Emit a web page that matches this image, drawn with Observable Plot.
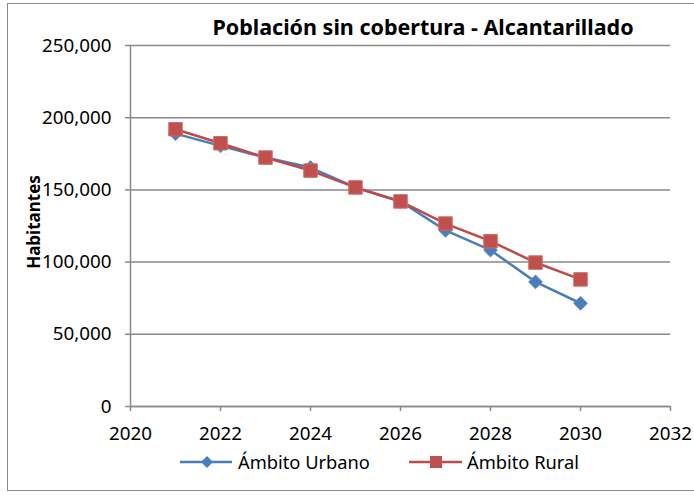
<!DOCTYPE html>
<html>
<head>
<meta charset="utf-8">
<script src="https://cdn.jsdelivr.net/npm/d3@7"></script>
<script src="https://cdn.jsdelivr.net/npm/@observablehq/plot@0.6"></script>
<style>
  body { margin: 0; background: #fff; }
  #wrap { position: relative; width: 694px; height: 495px; overflow: hidden; font-family: "Noto Sans", sans-serif; color: #000; }
  #frame { position: absolute; left: 7px; top: 3px; width: 700px; height: 488px; border: 1.5px solid #8a8a8a; box-sizing: border-box; }
  #plot { position: absolute; left: 0; top: 0; }
  #title { position: absolute; left: 423px; top: 27px; transform: translate(-50%, -50%); font-weight: bold; font-size: 21.5px; line-height: 1; white-space: nowrap; }
  #ylabel { position: absolute; left: 33px; top: 222px; transform: translate(-50%, -50%) rotate(-90deg); font-weight: bold; font-size: 17px; line-height: 1; white-space: nowrap; }
  .leg { position: absolute; top: 462px; transform: translateY(-50%); font-size: 18.3px; line-height: 1; white-space: nowrap; }
  .legsym { position: absolute; top: 452px; }
</style>
</head>
<body>
<div id="wrap">
  <div id="frame"></div>
  <div id="plot"></div>
  <div id="title">Población sin cobertura - Alcantarillado</div>
  <div id="ylabel">Habitantes</div>
</div>
<script>
// ---- data ----
const years = [2021, 2022, 2023, 2024, 2025, 2026, 2027, 2028, 2029, 2030];
const urbano = [189000, 180500, 172400, 165500, 151700, 142000, 122000, 108300, 86300, 71500];
const rural  = [192000, 182300, 172400, 163400, 151700, 142000, 126700, 114500, 99700, 88000];
const seriesNames = ["Ámbito Urbano", "Ámbito Rural"];
const xTicks = [2020, 2022, 2024, 2026, 2028, 2030, 2032];
const yTicks = [0, 50000, 100000, 150000, 200000, 250000];

const colors = { "Ámbito Urbano": "#4A7EBB", "Ámbito Rural": "#BE4B48" };

const rowsU = years.map((y, i) => ({ year: y, value: urbano[i], serie: seriesNames[0] }));
const rowsR = years.map((y, i) => ({ year: y, value: rural[i], serie: seriesNames[1] }));

const gridColor = "#8a8a8a";
const tickFont = "Noto Sans";

const chart = Plot.plot({
  width: 694,
  height: 440,
  marginLeft: 130,
  marginRight: 24,
  marginTop: 45,
  marginBottom: 34,
  style: { fontFamily: tickFont, fontSize: "18.8px", color: "#000", background: "transparent", overflow: "visible" },
  x: { domain: [2020, 2032] },
  y: { domain: [0, 250000] },
  marks: [
    Plot.gridY(yTicks, { stroke: gridColor, strokeOpacity: 1, strokeWidth: 1.5 }),
    Plot.ruleX([2020], { stroke: gridColor, strokeWidth: 1.5 }),
    Plot.ruleY([0], { stroke: gridColor, strokeWidth: 1.5 }),
    Plot.axisY(yTicks, { tickFormat: d3.format(","), tickSize: 5, tickPadding: 14, stroke: gridColor, strokeWidth: 1.5, label: null, fill: "#000" }),
    Plot.axisX(xTicks, { tickFormat: d => String(d), tickSize: 5, tickPadding: 15, stroke: gridColor, strokeWidth: 1.5, label: null, fill: "#000" }),
    Plot.line(rowsU, { x: "year", y: "value", stroke: colors["Ámbito Urbano"], strokeWidth: 2.5 }),
    Plot.dot(rowsU, { x: "year", y: "value", symbol: "diamond2", r: 6.2, fill: colors["Ámbito Urbano"], stroke: "#5a8cc8", strokeWidth: 1 }),
    Plot.line(rowsR, { x: "year", y: "value", stroke: colors["Ámbito Rural"], strokeWidth: 2.5 }),
    Plot.dot(rowsR, { x: "year", y: "value", symbol: "square", r: 7.6, fill: "#C0504D", stroke: "#cf6a67", strokeWidth: 1 })
  ]
});
document.getElementById("plot").appendChild(chart);

// ---- legend ----
const wrap = document.getElementById("wrap");
const legendItems = [
  { name: seriesNames[0], x0: 180, x1: 232, cx: 207, tx: 238, shape: "diamond" },
  { name: seriesNames[1], x0: 409, x1: 462, cx: 436, tx: 467, shape: "square" }
];
legendItems.forEach(it => {
  const svg = d3.create("svg").attr("class", "legsym").attr("width", it.x1 - it.x0 + 2).attr("height", 20)
    .style("left", (it.x0 - 1) + "px");
  const c = colors[it.name];
  const cx = it.cx - it.x0 + 1;
  svg.append("line").attr("x1", 1).attr("x2", it.x1 - it.x0 + 1).attr("y1", 10).attr("y2", 10)
    .attr("stroke", c).attr("stroke-width", 2.5);
  if (it.shape === "diamond") {
    svg.append("path").attr("d", `M${cx},${10 - 6}L${cx + 6},10L${cx},${10 + 6}L${cx - 6},10Z`).attr("fill", c);
  } else {
    svg.append("rect").attr("x", cx - 6).attr("y", 4).attr("width", 12).attr("height", 12).attr("fill", "#C0504D");
  }
  wrap.appendChild(svg.node());
  const t = document.createElement("div");
  t.className = "leg";
  t.style.left = it.tx + "px";
  t.textContent = it.name;
  wrap.appendChild(t);
});
</script>
</body>
</html>
